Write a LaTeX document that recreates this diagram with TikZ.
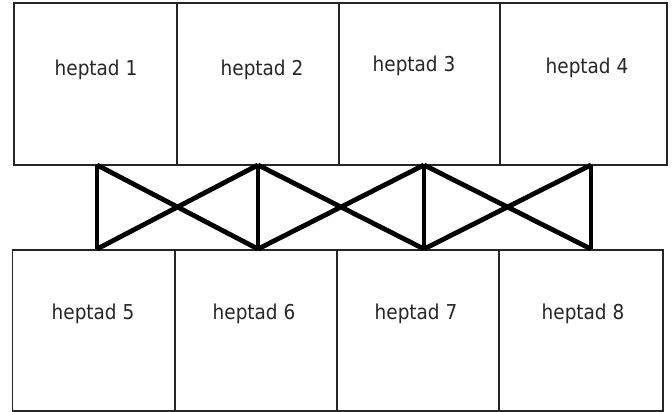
\documentclass[tikz,border=0pt]{standalone}
\usepackage{fontspec}
\newfontfamily\lblfont{DejaVu Sans Condensed}
\begin{document}
\begin{tikzpicture}[x=1pt,y=-1pt,
  cell/.style={draw=black!85,line width=1.3pt,inner sep=0pt,outer sep=0pt},
  lbl/.style={font=\lblfont\fontsize{20.5}{23}\selectfont,text=black!85,inner sep=0pt,anchor=center},
  brace/.style={line width=4.8pt,black}]
\useasboundingbox[fill=white] (0,0) rectangle (672,412);
% top row
\node[cell,minimum width=163pt,minimum height=162pt] (b1) at (95.5,84) {};
\node[cell,minimum width=162pt,minimum height=162pt] (b2) at (258,84) {};
\node[cell,minimum width=161pt,minimum height=162pt] (b3) at (419.5,84) {};
\node[cell,minimum width=167pt,minimum height=162pt] (b4) at (583.5,84) {};
% bottom row
\node[cell,minimum width=162.5pt,minimum height=161pt] (b5) at (93.75,330.5) {};
\node[cell,minimum width=162pt,minimum height=161pt] (b6) at (256,330.5) {};
\node[cell,minimum width=162pt,minimum height=161pt] (b7) at (418,330.5) {};
\node[cell,minimum width=164pt,minimum height=161pt] (b8) at (581,330.5) {};
% labels
\node[lbl] (t1) at (96,70) {heptad 1};
\node[lbl] (t2) at (262,70) {heptad 2};
\node[lbl] (t3) at (414,66) {heptad 3};
\node[lbl] (t4) at (587,68) {heptad 4};
\node[lbl] (t5) at (93,314) {heptad 5};
\node[lbl] (t6) at (254,314) {heptad 6};
\node[lbl] (t7) at (416,314) {heptad 7};
\node[lbl] (t8) at (583,314) {heptad 8};
% thick connectors
\coordinate (u1) at (97,165);
\coordinate (u2) at (258,165);
\coordinate (u3) at (424,165);
\coordinate (u4) at (591,165);
\coordinate (d1) at (97,249);
\coordinate (d2) at (258,249);
\coordinate (d3) at (424,249);
\coordinate (d4) at (591,249);
\draw[brace] (u1) -- (d1);
\draw[brace] (u2) -- (d2);
\draw[brace] (u3) -- (d3);
\draw[brace] (u4) -- (d4);
\draw[brace] (u1) -- (d2);
\draw[brace] (d1) -- (u2);
\draw[brace] (u2) -- (d3);
\draw[brace] (d2) -- (u3);
\draw[brace] (u3) -- (d4);
\draw[brace] (d3) -- (u4);
\end{tikzpicture}
\end{document}
